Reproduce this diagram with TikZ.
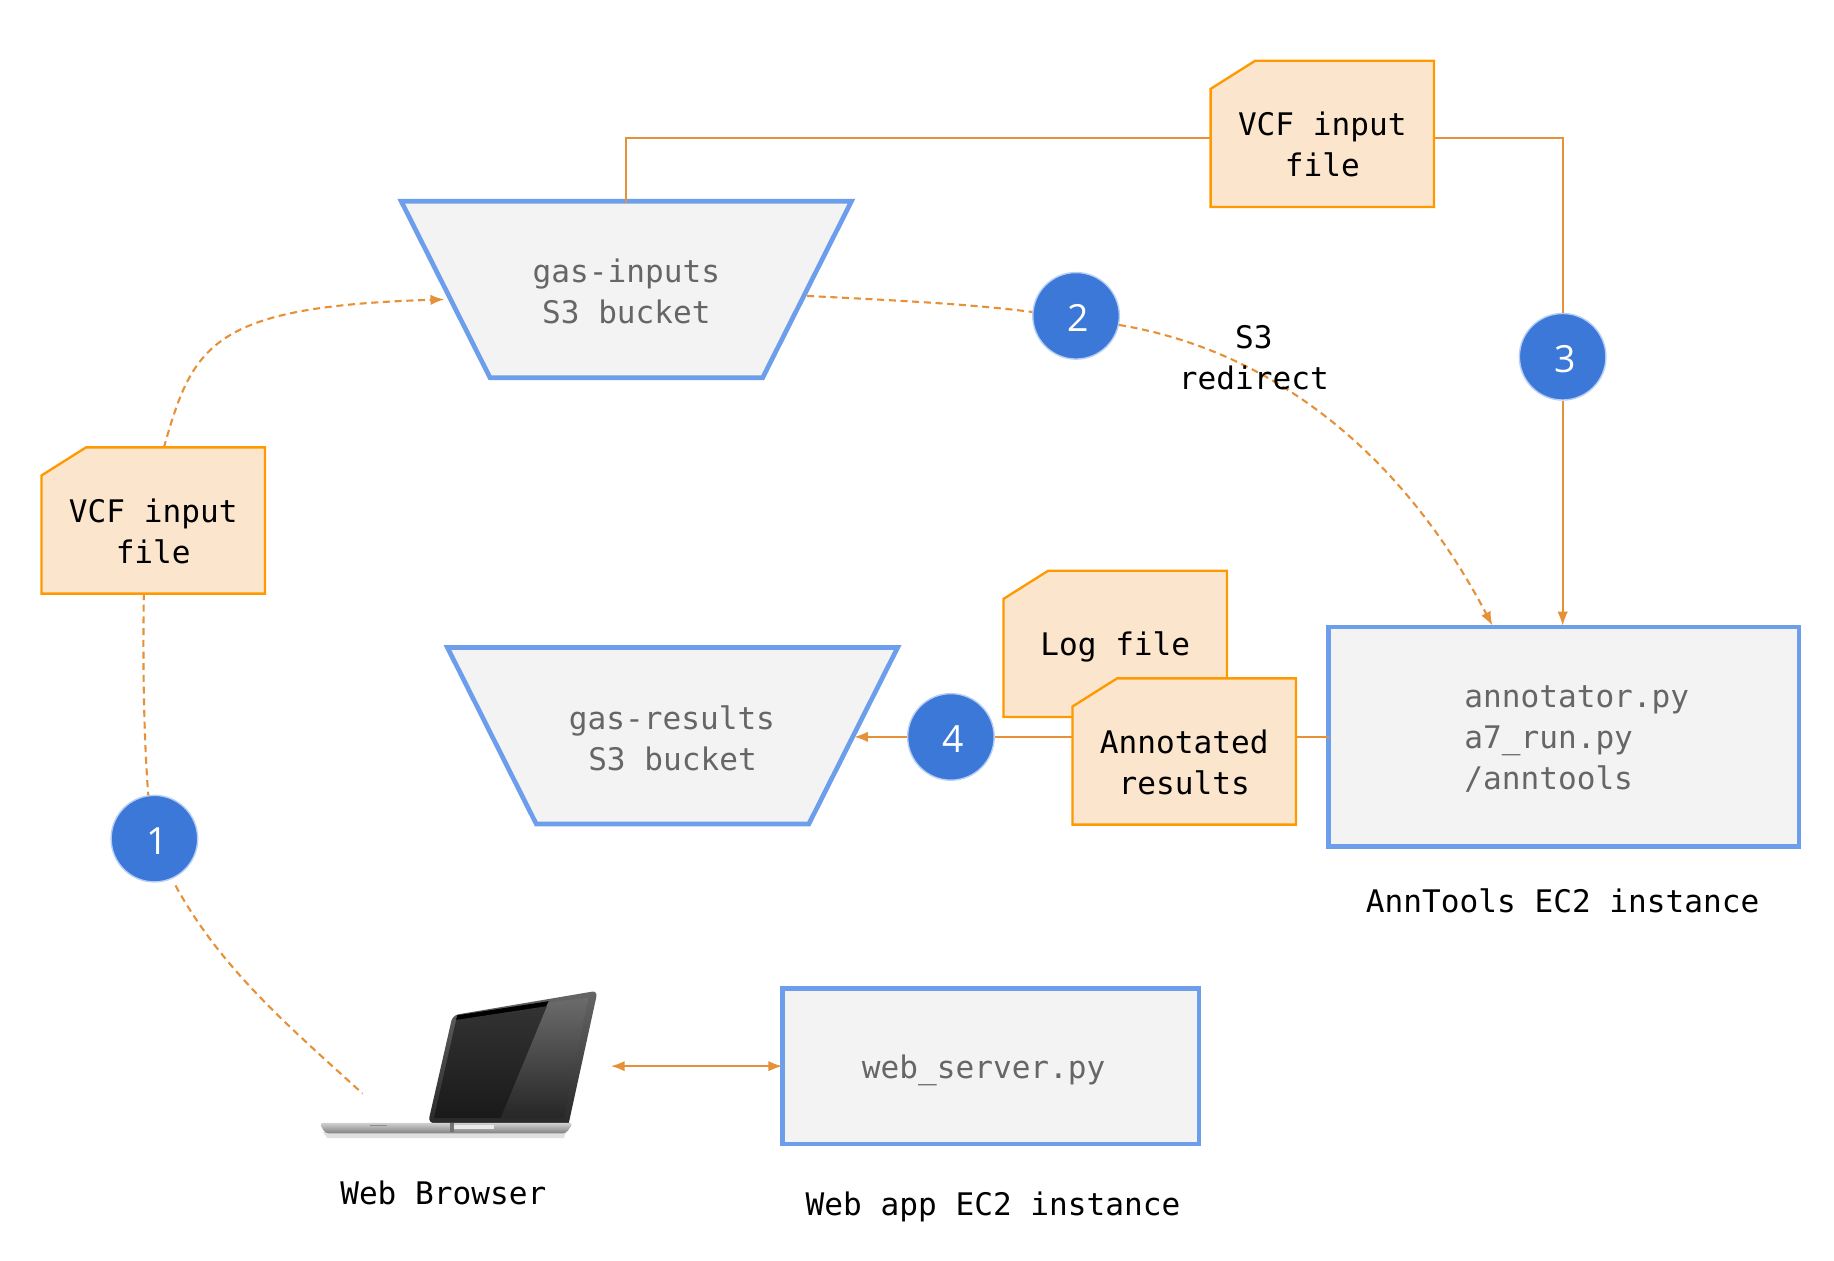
\documentclass[tikz,border=0pt]{standalone}
\usepackage{fontspec}
\setmonofont{DejaVu Sans Mono}
\setsansfont{Open Sans}
\usetikzlibrary{arrows.meta,calc,shapes.geometric}
\definecolor{conn}{HTML}{E69138}
\definecolor{filedge}{HTML}{FF9900}
\definecolor{filefill}{HTML}{FCE5CD}
\definecolor{boxedge}{HTML}{6D9EEB}
\definecolor{boxfill}{HTML}{F3F3F3}
\definecolor{badge}{HTML}{3C78D8}
\definecolor{graytext}{HTML}{666666}
\newcommand{\filedoc}[5]{% name cx cy text-yshift text
  \draw[fileshape] ($(#2,#3)+(-95.5,-38.5)$) -- ($(#2,#3)+(-57.5,-62.5)$) -- ($(#2,#3)+(95.5,-62.5)$) -- ($(#2,#3)+(95.5,62.5)$) -- ($(#2,#3)+(-95.5,62.5)$) -- cycle;
  \node[filetext,yshift=#4] (#1) at (#2,#3) {#5};}
\newcommand{\bucketshape}[4]{% name cx cy text
  \draw[boxshape] ($(#2,#3)+(-192.5,-75.5)$) -- ($(#2,#3)+(192.5,-75.5)$) -- ($(#2,#3)+(116.5,75.5)$) -- ($(#2,#3)+(-116.5,75.5)$) -- cycle;
  \node[boxtext,yshift=-1pt] (#1) at (#2,#3) {#4};}
\tikzset{
  fileshape/.style={draw=filedge,fill=filefill,line width=1pt,line join=miter},
  boxshape/.style={draw=boxedge,fill=boxfill,line width=2pt,line join=miter},
  filetext/.style={font=\ttfamily\fontsize{13.3}{17.5}\selectfont,align=center,text=black,inner sep=0pt},
  boxtext/.style={font=\ttfamily\fontsize{13.3}{17.5}\selectfont,align=center,text=graytext,inner sep=0pt,minimum width=192.5pt,minimum height=75.5pt},
  caption/.style={font=\ttfamily\fontsize{13.3}{17.5}\selectfont,align=center,text=black,inner sep=0pt},
  numdot/.style={circle,fill=badge,draw=boxedge!50,line width=0.6pt,minimum size=37pt,inner sep=0pt},
  numtext/.style={text=white,inner sep=0pt,font=\sffamily\fontsize{16}{16}\selectfont},
  link/.style={draw=conn,line width=0.8pt},
  heavylink/.style={draw=conn,line width=1.1pt},
  dashlink/.style={draw=conn,line width=0.9pt,dash pattern=on 3pt off 2pt},
  tip/.style={-{Latex[length=6pt,width=4.5pt]}},
  tips/.style={{Latex[length=6pt,width=4.5pt]}-{Latex[length=6pt,width=4.5pt]}},
}
\begin{document}
\begin{tikzpicture}[x=0.5pt,y=-0.5pt]
\useasboundingbox (0,0) rectangle (1568,1077.3);
% anchors for free ends
\coordinate (dropin) at (380,256);
\coordinate (bucketout) at (690,253);
\coordinate (laptopdrop) at (310,935);
\coordinate (laptopright) at (522,911.5);
% badges
\node[numdot] (n1) at (132,717) {};
\node[numdot] (n2) at (920,270) {};
\node[numdot] (n3) at (1336,305) {};
\node[numdot] (n4) at (813,630) {};
\node[numtext] (t1) at (134,719) {1};
\node[numtext] (t2) at (922,272) {2};
\node[numtext] (t3) at (1338,307) {3};
\node[numtext] (t4) at (815,632) {4};
% boxes
\draw[boxshape] (1136,536) rectangle (1538,724);
\node[boxtext,minimum width=201pt,minimum height=94pt,text width=201pt,align=left,yshift=-1pt] (ann) at (1337,630) {\hspace*{58pt}annotator.py\\\hspace*{58pt}a7\_run.py\\\hspace*{58pt}/anntools};
\draw[boxshape] (669,845) rectangle (1025,978);
\node[boxtext,minimum width=178pt,minimum height=66.5pt,yshift=-2pt] (web) at (847,911.5) {\hspace*{-6pt}web\_server.py};
\bucketshape{inb}{535.5}{247.5}{gas-inputs\\S3 bucket}
\bucketshape{resb}{575}{629}{\hspace*{-0.5pt}gas-results\\S3 bucket}
% connectors
\draw[link] (inb.north) -- (535.5,118) -- (1035,118);
\draw[link] (1226,118) -- (1336,118) -- (n3.north);
\coordinate (annin) at (1336,535);
\draw[link,tip] (n3.south) -- (annin);
\draw[heavylink] (1136,630) -- (917,630);
\draw[heavylink] (917,630) -- (n4.east);
\draw[heavylink,tip] (n4.west) -- (730,630);
\draw[heavylink,tips] (laptopright) -- (669,911.5);
\draw[dashlink] (bucketout) .. controls (770,257) and (830,260) .. (n2.175);
\draw[dashlink,tip] (n2.-12) .. controls (1090,300) and (1200,390) .. (1276,535);
\draw[dashlink,tip] (140,383) .. controls (165,295) and (180,262) .. (dropin);
\draw[dashlink] (123,507) .. controls (122,570) and (123,630) .. (n1.98);
\draw[dashlink] (150,757) .. controls (190,830) and (250,880) .. (laptopdrop);
% documents
\filedoc{ftop}{1130.5}{114.5}{-4.5pt}{VCF input\\file}
\filedoc{fleft}{131}{445}{-4.5pt}{VCF input\\file}
\filedoc{flog}{953.5}{550.5}{-1.5pt}{Log file}
\filedoc{fann}{1012.5}{642.5}{-4.5pt}{Annotated\\results}
% texts
\node[caption] (redir) at (1072,306) {S3\\redirect};
\node[caption] (cap1) at (1336,770) {AnnTools EC2 instance};
\node[caption,yshift=-1pt] (cap2) at (849,1030) {Web app EC2 instance};
\node[caption] (cap3) at (379,1020) {Web Browser};
% laptop
\fill[black!12] (276,968) -- (484,968) -- (482,973) -- (280,973) -- cycle;
\shade[top color=black!60,bottom color=black!85,rounded corners=2.5pt] (366,960) -- (387,868) -- (511,847) -- (485,966) -- cycle;
\shade[top color=black,bottom color=black] (391,868) -- (469,856) -- (466,862) -- (390,873) -- cycle;
\shade[top color=black!80,bottom color=black!90] (390,872) -- (469,860) -- (428,956) -- (371,956) -- cycle;
\shade[top color=black!58,bottom color=black!85] (469,857) -- (503,853) -- (482,956) -- (428,956) -- cycle;
\shade[top color=black!18,bottom color=black!50,rounded corners=1.5pt] (273,960) -- (490,960) -- (484,969) -- (278,969) -- cycle;
\fill[black!8] (388,961.5) rectangle (422,965.5);
\fill[black!55] (385,960) rectangle (388,968);
\fill[black!45] (316,961.5) rectangle (331,963);
\end{tikzpicture}
\end{document}
